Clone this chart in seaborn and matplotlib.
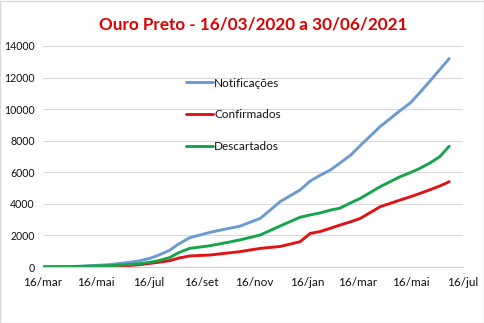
import matplotlib
matplotlib.use("Agg")
import matplotlib.pyplot as plt
import matplotlib.patches as mpatches
import pandas as pd
import seaborn as sns

title = "Ouro Preto - 16/03/2020 a 30/06/2021"
series_names = ["Notificações", "Confirmados", "Descartados"]
dates = ["2020-03-16", "2020-04-15", "2020-05-10", "2020-06-01", "2020-06-20", "2020-07-05",
         "2020-07-18", "2020-07-28", "2020-08-10", "2020-08-20", "2020-09-02", "2020-09-26",
         "2020-10-15", "2020-10-30", "2020-11-23", "2020-12-16", "2021-01-08", "2021-01-20",
         "2021-01-31", "2021-02-12", "2021-02-23", "2021-03-08", "2021-03-19", "2021-04-11",
         "2021-05-04", "2021-05-16", "2021-05-27", "2021-06-08", "2021-06-19", "2021-06-30"]
notificacoes = [0, 20, 80, 150, 270, 380, 550, 750, 1060, 1450, 1850, 2200, 2420, 2580, 3080,
                4140, 4880, 5450, 5800, 6140, 6570, 7100, 7700, 8900, 9900, 10400, 11050,
                11800, 12500, 13200]
confirmados = [0, 5, 20, 40, 80, 140, 230, 300, 400, 560, 700, 760, 880, 970, 1180, 1300,
               1600, 2130, 2240, 2450, 2650, 2870, 3080, 3820, 4240, 4450, 4660, 4900, 5130, 5400]
descartados = [0, 10, 60, 90, 140, 200, 300, 400, 600, 900, 1180, 1350, 1550, 1710, 2030,
               2600, 3150, 3300, 3420, 3600, 3720, 4070, 4350, 5090, 5720, 5980, 6250, 6600,
               6990, 7650]
tick_dates = ["2020-03-16", "2020-05-16", "2020-07-16", "2020-09-16", "2020-11-16",
              "2021-01-16", "2021-03-16", "2021-05-16", "2021-07-16"]
tick_labels = ["16/mar", "16/mai", "16/jul", "16/set", "16/nov", "16/jan", "16/mar", "16/mai", "16/jul"]
y_ticks = [0, 2000, 4000, 6000, 8000, 10000, 12000, 14000]
colors = ["#6b9bd0", "#e01418", "#18a44c"]

sns.set_style("white")
plt.rcParams["font.family"] = ["Lato", "DejaVu Sans"]

df = pd.concat([
    pd.DataFrame({"data": pd.to_datetime(dates), "valor": vals, "serie": name})
    for name, vals in zip(series_names, [notificacoes, confirmados, descartados])
])

fig = plt.figure(figsize=(4.85, 3.23), dpi=100)
ax = fig.add_axes([43 / 485, 1 - 267 / 323, 420 / 485, 221 / 323])

sns.lineplot(data=df, x="data", y="valor", hue="serie", hue_order=series_names,
             palette=colors, linewidth=2.1, ax=ax)

ax.set_xlim(pd.Timestamp("2020-03-16"), pd.Timestamp("2021-07-16"))
ax.set_ylim(0, 14000)
ax.set_yticks(y_ticks)
ax.set_yticklabels([str(v) for v in y_ticks], fontsize=7.6, color="#111111")
ax.set_xticks(pd.to_datetime(tick_dates))
ax.set_xticklabels(tick_labels, fontsize=8.5, color="#111111")
ax.set_xlabel("")
ax.set_ylabel("")
ax.yaxis.grid(True, color="#d9d9d9", linewidth=0.8)
ax.set_axisbelow(True)
for s in ["left", "right", "top"]:
    ax.spines[s].set_visible(False)
ax.spines["bottom"].set_color("#d0d0d0")
ax.spines["bottom"].set_linewidth(0.8)
ax.tick_params(axis="x", length=3, color="#d0d0d0", pad=4)
ax.tick_params(axis="y", length=0, pad=6)

leg = ax.legend(loc="upper left", bbox_to_anchor=(0.315, 0.905), frameon=False,
                fontsize=8.5, handlelength=2.3, handletextpad=0.1, labelspacing=1.75)
for t in leg.get_texts():
    t.set_color("#111111")

fig.text(0.522, 0.925, title, ha="center", va="center", fontsize=12.3,
         fontweight="bold", color="#dd0000")
fig.patches.append(mpatches.Rectangle((0.001, 0.001), 0.997, 0.997, transform=fig.transFigure,
                                      fill=False, edgecolor="#d9d9d9", linewidth=1))

fig.savefig("out.png", dpi=100)
